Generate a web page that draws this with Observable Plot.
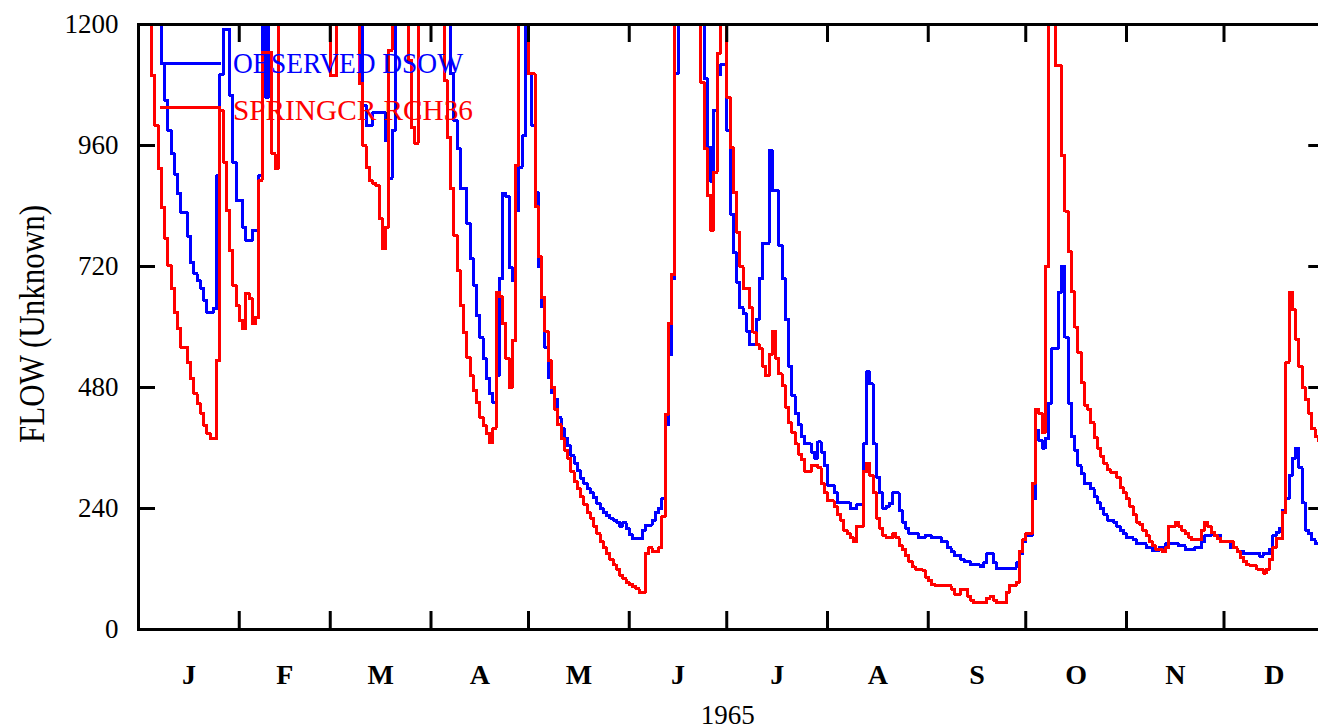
<!DOCTYPE html>
<html>
<head>
<meta charset="utf-8">
<script src="https://cdn.jsdelivr.net/npm/d3@7"></script>
<script src="https://cdn.jsdelivr.net/npm/@observablehq/plot@0.6"></script>
<style>
html, body { margin: 0; padding: 0; background: #fff; overflow: hidden; }
#chart { width: 1318px; height: 728px; overflow: hidden; }
#chart svg { max-width: none !important; height: 728px !important; width: 1330px !important; display: block; }
</style>
</head>
<body>
<div id="chart"></div>
<script>
// ---- data (daily flow, 1965; 1300 = off the top of the chart) ----
const year = 1965;

const observedFlow = [
1300,1300,1300,1300,1300,1300,1300,1123,1050,990,
944,903,865,827,827,780,728,706,692,677,
653,629,629,637,900,1100,1190,1190,1060,927,
851,851,798,772,772,792,792,900,1300,1056,
1300,1300,1300,1300,1300,1300,1300,1300,1300,1300,
1300,1300,1300,1300,1300,1300,1300,1300,1300,1300,
1300,1300,1300,1300,1300,1300,1300,1300,1300,1040,
1000,1000,1025,1025,1025,1025,970,895,990,1300,
1300,1300,1300,1300,1300,1300,1300,1300,1300,1300,
1300,1300,1300,1300,1300,1300,1103,1010,954,875,
875,806,736,683,623,579,538,498,468,450,
504,696,865,859,718,692,831,917,979,1300,
1102,1000,866,720,640,560,500,470,456,420,
398,379,364,345,330,315,300,290,279,271,
262,250,240,232,226,221,217,213,205,212,
200,188,180,180,180,197,207,207,217,232,
240,260,406,545,696,1102,1300,1300,1300,1300,
1300,1300,1300,1300,1093,956,889,1030,1100,1120,
1120,990,824,747,689,638,627,592,565,565,
615,696,766,766,950,870,870,762,696,615,
522,464,429,406,383,368,368,352,340,372,
352,325,286,286,271,251,251,251,251,240,
240,248,248,368,511,487,368,302,271,240,
244,250,271,271,236,213,201,190,190,190,
182,182,186,186,182,182,182,174,174,162,
155,147,147,139,134,134,128,128,128,124,
132,151,151,132,121,121,121,121,121,121,
132,151,174,186,186,260,395,375,360,379,
449,557,557,669,720,580,449,383,356,325,
309,290,290,279,263,251,240,228,217,217,
213,205,197,190,182,182,178,170,170,170,
162,162,157,157,162,162,170,170,170,170,
166,166,159,159,159,162,162,174,186,186,
190,186,186,174,174,174,162,162,155,155,
151,151,151,151,151,145,151,151,159,186,
193,201,236,259,306,340,360,321,251,197,
190,178,170,170
];

const simulatedFlow = [
1300,1300,1300,1300,1099,1000,915,837,776,722,
677,629,597,560,560,530,498,468,448,429,
405,389,379,379,534,1030,927,831,752,683,
643,613,597,667,657,607,619,891,1145,1145,
1145,944,915,1300,1300,1300,1300,1300,1300,1300,
1300,1300,1300,1300,1300,1300,1300,1300,1300,1099,
1099,1300,1300,1300,1300,1300,1300,1300,1083,960,
917,890,885,881,815,756,798,1149,1300,1300,
1300,1300,1300,1129,996,964,1300,1300,1300,1300,
1300,1300,1300,1300,1089,976,875,782,712,643,
589,540,504,474,450,421,405,389,371,399,
669,660,607,538,480,573,921,1300,1300,1300,
1102,1102,839,739,658,592,534,480,437,406,
379,356,340,313,294,279,263,248,232,221,
205,190,174,162,151,139,128,120,108,101,
93,89,85,81,74,74,151,162,155,155,
162,224,426,607,704,1300,1300,1300,1300,1300,
1300,1300,1300,1085,954,861,792,907,1143,1300,
1300,1056,956,867,788,720,677,677,638,590,
565,557,522,503,545,592,538,507,484,441,
410,391,368,348,337,313,313,325,325,321,
290,271,255,255,244,228,217,197,190,182,
174,205,205,313,329,306,271,221,201,186,
182,182,190,182,166,159,147,135,124,120,
120,118,104,97,89,87,87,87,87,87,
80,70,70,80,80,66,58,53,53,53,
53,62,66,58,53,53,53,74,87,87,
93,155,178,190,190,290,437,429,391,720,
1300,1300,1118,1118,940,830,750,670,600,550,
490,445,437,410,380,360,344,329,317,312,
312,302,282,271,259,244,228,213,209,197,
186,174,166,159,159,155,162,205,205,213,
205,197,191,183,178,178,178,197,213,205,
193,186,180,174,174,174,174,162,155,143,
135,128,126,126,120,120,112,120,139,162,
180,180,232,530,669,634,576,522,480,456,
429,398,383,375
];

const monthLabels = ["J","F","M","A","M","J","J","A","S","O","N","D"];
const yTicks = [0, 240, 480, 720, 960, 1200];
const seriesNames = ["OBSERVED DSOW", "SPRINGCR RCH36"];
const seriesColors = ["#0000ff", "#ff0000"];
const yTitle = "FLOW (Unknown)";
const xTitle = "1965";

// ---- build tables ----
const day0 = Date.UTC(year, 0, 1);
const toDate = d => new Date(day0 + d * 864e5);
const obs = observedFlow.map((v, i) => ({date: toDate(i), flow: v}));
const sim = simulatedFlow.map((v, i) => ({date: toDate(i), flow: v}));
const monthStarts = d3.range(12).map(m => new Date(Date.UTC(year, m, 1)));
const monthMids = d3.range(12).map(m => new Date((Date.UTC(year, m, 1) + Date.UTC(year, m + 1, 1)) / 2));

const serif = "'Liberation Serif', 'Times New Roman', serif";

const chart = Plot.plot({
  width: 1330,
  height: 728,
  marginLeft: 138,
  marginRight: 5.75,
  marginTop: 24,
  marginBottom: 99,
  x: {type: "utc", domain: [new Date(Date.UTC(year, 0, 1)), new Date(Date.UTC(year + 1, 0, 1))]},
  y: {domain: [0, 1200]},
  style: {background: "white", overflow: "visible", maxWidth: "none"},
  marks: [
    Plot.line(obs, {x: "date", y: "flow", curve: "step-after", stroke: seriesColors[0], strokeWidth: 3, clip: true, shapeRendering: "crispEdges"}),
    Plot.line(sim, {x: "date", y: "flow", curve: "step-after", stroke: seriesColors[1], strokeWidth: 3, clip: true, shapeRendering: "crispEdges"}),
    Plot.axisX({anchor: "bottom", ticks: monthStarts, tickSize: -18, tickFormat: () => "", strokeWidth: 3, label: null}),
    Plot.axisX({anchor: "top", ticks: monthStarts, tickSize: -17, tickFormat: () => "", strokeWidth: 3, label: null}),
    Plot.axisY({anchor: "left", ticks: yTicks, tickSize: -17, tickFormat: () => "", strokeWidth: 3, label: null}),
    Plot.axisY({anchor: "right", ticks: yTicks, tickSize: -17, tickFormat: () => "", strokeWidth: 3, label: null}),
    Plot.frame({stroke: "black", strokeWidth: 3}),
    Plot.text(yTicks, {y: d => d, text: d => String(d), frameAnchor: "left", dx: -20, textAnchor: "end", lineAnchor: "middle", fontSize: 27, fontFamily: serif, fill: "black"}),
    Plot.text(monthMids, {x: d => d, text: (d, i) => monthLabels[i], frameAnchor: "bottom", dy: 54, lineAnchor: "bottom", fontSize: 28, fontWeight: "bold", fontFamily: serif, fill: "black"}),
    Plot.text([xTitle], {text: d => d, frameAnchor: "bottom", dx: -4, dy: 94, lineAnchor: "bottom", fontSize: 27, fontFamily: serif, fill: "black"}),
    Plot.text([yTitle], {text: d => d, frameAnchor: "left", dx: -106, dy: 116, rotate: -90, textAnchor: "start", lineAnchor: "middle", fontSize: 36, fontFamily: serif, fill: "black"})
  ]
});

document.getElementById("chart").appendChild(chart);

// fit the rotated axis title to the original's length
d3.select(chart).selectAll("text")
  .filter(function() { return this.textContent === yTitle; })
  .attr("textLength", 238).attr("lengthAdjust", "spacingAndGlyphs");

// in-plot legend (line sample + label), top-left
const svg = d3.select(chart);
const legend = svg.append("g").attr("class", "legend").attr("text-anchor", "start");
const legendRows = [
  {name: seriesNames[0], color: seriesColors[0], lineY: 63, textY: 73, len: 230},
  {name: seriesNames[1], color: seriesColors[1], lineY: 107, textY: 120, len: 240}
];
legendRows.forEach(r => {
  legend.append("line")
    .attr("x1", 160).attr("x2", 221).attr("y1", r.lineY).attr("y2", r.lineY)
    .attr("stroke", r.color).attr("stroke-width", 3).attr("shape-rendering", "crispEdges");
  legend.append("text")
    .attr("x", 233).attr("y", r.textY)
    .attr("text-anchor", "start")
    .attr("fill", r.color)
    .attr("font-family", serif)
    .attr("font-size", 29)
    .attr("textLength", r.len).attr("lengthAdjust", "spacingAndGlyphs")
    .text(r.name);
});
</script>
</body>
</html>
